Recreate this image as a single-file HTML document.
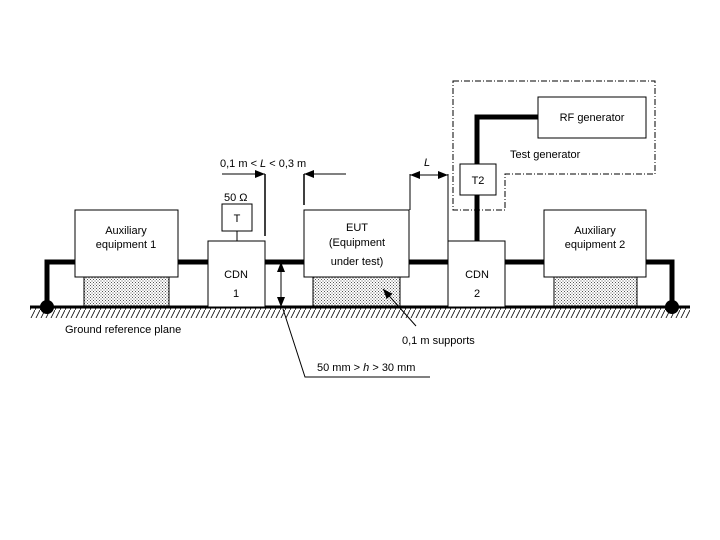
<!DOCTYPE html>
<html><head><meta charset="utf-8"><style>
body{margin:0;background:#fff}
svg{display:block}
text{font-family:"Liberation Sans",sans-serif;font-size:11px;fill:#000}
</style></head><body>
<svg width="720" height="540" viewBox="0 0 720 540" xmlns="http://www.w3.org/2000/svg">
<defs>
<pattern id="dots" width="3" height="3" patternUnits="userSpaceOnUse"><rect width="3" height="3" fill="#fff"/><rect width="1" height="1" fill="#555"/><rect x="1.5" y="1.5" width="1" height="1" fill="#555"/></pattern>
<pattern id="hatch" width="5" height="10" patternUnits="userSpaceOnUse"><rect width="5" height="10" fill="#fff"/><line x1="0" y1="10" x2="5" y2="0" stroke="#000" stroke-width="0.8"/></pattern>
<marker id="ah" markerWidth="10" markerHeight="8" refX="10" refY="4" orient="auto" markerUnits="userSpaceOnUse"><path d="M0,0 L10,4 L0,8 Z" fill="#000"/></marker>
<marker id="ahs" markerWidth="10" markerHeight="8" refX="0" refY="4" orient="auto" markerUnits="userSpaceOnUse"><path d="M10,0 L0,4 L10,8 Z" fill="#000"/></marker>
</defs>
<!-- hatching -->
<rect x="30" y="308" width="660" height="10" fill="url(#hatch)"/>
<!-- supports -->
<rect x="84" y="277" width="85" height="30" fill="url(#dots)" stroke="#000"/>
<rect x="313" y="277" width="87" height="30" fill="url(#dots)" stroke="#000"/>
<rect x="554" y="277" width="83" height="30" fill="url(#dots)" stroke="#000"/>
<!-- cables -->
<g stroke="#000" stroke-width="5" fill="none">
<polyline points="47,308 47,262 75,262"/>
<line x1="178" y1="262" x2="208" y2="262"/>
<line x1="265" y1="262" x2="304" y2="262"/>
<line x1="409" y1="262" x2="448" y2="262"/>
<line x1="505" y1="262" x2="544" y2="262"/>
<polyline points="646,262 672,262 672,308"/>
<polyline points="477,241 477,117 538,117"/>
</g>
<line x1="30" y1="307" x2="690" y2="307" stroke="#000" stroke-width="3"/>
<circle cx="47" cy="307" r="7" fill="#000"/>
<circle cx="672" cy="307" r="7" fill="#000"/>
<!-- dashed box -->
<path d="M453,81 H655 V174 H505 V210 H453 Z" fill="none" stroke="#000" stroke-width="1" stroke-dasharray="6,2,1,2"/>
<!-- boxes -->
<g fill="#fff" stroke="#000" stroke-width="1">
<rect x="75" y="210" width="103" height="67"/>
<rect x="208" y="241" width="57" height="66"/>
<rect x="222" y="204" width="30" height="27"/>
<rect x="304" y="210" width="105" height="67"/>
<rect x="448" y="241" width="57" height="66"/>
<rect x="460" y="164" width="36" height="31"/>
<rect x="538" y="97" width="108" height="41"/>
<rect x="544" y="210" width="102" height="67"/>
</g>
<line x1="237" y1="231" x2="237" y2="241" stroke="#000"/>
<!-- dimensions -->
<g stroke="#000" stroke-width="1" fill="none">
<line x1="265" y1="174" x2="265" y2="236" stroke-width="1.5"/>
<line x1="304" y1="174" x2="304" y2="205" stroke-width="1.5"/>
<line x1="222" y1="174" x2="265" y2="174" marker-end="url(#ah)"/>
<line x1="346" y1="174" x2="304" y2="174" marker-end="url(#ah)"/>
<line x1="410" y1="174" x2="410" y2="210"/>
<line x1="448" y1="174" x2="448" y2="241"/>
<line x1="410" y1="175" x2="448" y2="175" marker-start="url(#ahs)" marker-end="url(#ah)"/>
<line x1="281" y1="262" x2="281" y2="307" marker-start="url(#ahs)" marker-end="url(#ah)"/>
<polyline points="283,309 305,377 430,377"/>
<line x1="416" y1="326" x2="383" y2="289" marker-end="url(#ah)"/>
</g>
<!-- labels -->
<text x="220" y="167">0,1 m &lt; <tspan font-style="italic">L</tspan> &lt; 0,3 m</text>
<text x="424" y="166" font-style="italic">L</text>
<text x="224" y="201">50 Ω</text>
<text x="237" y="222" text-anchor="middle">T</text>
<text x="126" y="234" text-anchor="middle">Auxiliary</text>
<text x="126" y="248" text-anchor="middle">equipment 1</text>
<text x="236" y="278" text-anchor="middle">CDN</text>
<text x="236" y="297" text-anchor="middle">1</text>
<text x="357" y="231" text-anchor="middle">EUT</text>
<text x="357" y="246" text-anchor="middle">(Equipment</text>
<text x="357" y="265" text-anchor="middle" font-size="10">under test)</text>
<text x="477" y="278" text-anchor="middle">CDN</text>
<text x="477" y="297" text-anchor="middle">2</text>
<text x="478" y="184" text-anchor="middle">T2</text>
<text x="592" y="121" text-anchor="middle">RF generator</text>
<text x="510" y="158">Test generator</text>
<text x="595" y="234" text-anchor="middle">Auxiliary</text>
<text x="595" y="248" text-anchor="middle">equipment 2</text>
<text x="65" y="333">Ground reference plane</text>
<text x="402" y="344">0,1 m supports</text>
<text x="317" y="371">50 mm &gt; <tspan font-style="italic">h</tspan> &gt; 30 mm</text>
</svg>
</body></html>
